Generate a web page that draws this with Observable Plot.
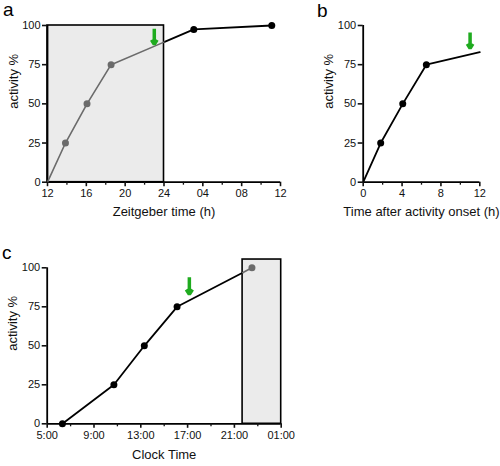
<!DOCTYPE html>
<html>
<head>
<meta charset="utf-8">
<script src="https://cdn.jsdelivr.net/npm/d3@7"></script>
<script src="https://cdn.jsdelivr.net/npm/@observablehq/plot@0.6"></script>
<style>
  body { margin: 0; background: #fff; font-family: 'Liberation Sans', Arial, sans-serif; }
  #root { position: relative; width: 500px; height: 466px; overflow: hidden; background: #fff; }
  .pan { position: absolute; }
  .letter { position: absolute; font-size: 19px; line-height: 1; color: #000; }
</style>
</head>
<body>
<div id="root"></div>
<script>
// ---------- data ----------
const yTicks = [0, 25, 50, 75, 100];
const yLabel = "activity %";

// panel a: Zeitgeber time
const aHours = [12, 13.85, 16.07, 18.55, 27.07, 35.1];
const aActivity = [0, 25, 50, 75, 97.5, 100];
const aMarked = [false, true, true, true, true, true];
const aShade = [12, 24];
const aShadeTop = 100;
const aArrow = [23, 98, 88];           // hour, from, to
const aTicks = [12, 16, 20, 24, 28, 32, 36];
const aTickLabels = ["12", "16", "20", "24", "04", "08", "12"];
const aMinor = [14, 18, 22, 26, 30, 34];
const aXLabel = "Zeitgeber time (h)";

// panel b: time after activity onset
const bHours = [0, 1.8, 4.07, 6.5, 12];
const bActivity = [0, 25, 50, 75, 83];
const bMarked = [false, true, true, true, false];
const bArrow = [11, 95.5, 85.5];
const bTicks = [0, 4, 8, 12];
const bTickLabels = ["0", "4", "8", "12"];
const bMinor = [2, 6, 10];
const bXLabel = "Time after activity onset (h)";

// panel c: clock time
const cHours = [6.3, 10.7, 13.3, 16.1, 22.5];
const cActivity = [0, 25, 50, 75, 100];
const cMarked = [true, true, true, true, true];
const cShade = [21.7, 25];
const cShadeTop = 105.3;
const cArrow = [17.15, 94, 83];
const cTicks = [5, 9, 13, 17, 21, 25];
const cTickLabels = ["5:00", "9:00", "13:00", "17:00", "21:00", "01:00"];
const cMinor = [7, 11, 15, 19, 23];
const cXLabel = "Clock Time";

// ---------- styles ----------
const BLACK = "#000";
const GRAY = "#6b6b6b";
const SHADE = "#ebebeb";
const GREEN = "#1fab1f";
const FONT = "'Liberation Sans', Arial, sans-serif";

function splitLine(pts, lo, hi) {
  const inside = x => x >= lo && x <= hi;
  const out = [];
  let cur = [pts[0]], curIn = inside(pts[0].x);
  for (let k = 1; k < pts.length; k++) {
    const p0 = pts[k - 1], p1 = pts[k];
    for (const b of [lo, hi]) {
      if ((p0.x - b) * (p1.x - b) < 0) {
        const t = (b - p0.x) / (p1.x - p0.x);
        const q = {x: b, y: p0.y + t * (p1.y - p0.y)};
        cur.push(q);
        out.push({pts: cur, inside: curIn});
        cur = [q];
        curIn = !curIn;
      }
    }
    cur.push(p1);
  }
  out.push({pts: cur, inside: curIn});
  return out;
}

function makePanel(cfg) {
  const pts = cfg.hours.map((x, i) => ({x, y: cfg.activity[i], marked: cfg.marked[i]}));
  const shade = cfg.shade || [Infinity, Infinity];
  const segs = splitLine(pts, shade[0], shade[1]);
  const rows = [];
  segs.forEach((s, si) => s.pts.forEach(p => rows.push({x: p.x, y: p.y, seg: si, inside: s.inside})));
  const isIn = x => x >= shade[0] && x <= shade[1];
  const dots = pts.filter(p => p.marked);
  const xMin = cfg.xDomain[0], xMax = cfg.xDomain[1];

  const marks = [];
  if (cfg.shade) {
    marks.push(Plot.rect([{x1: cfg.shade[0], x2: cfg.shade[1], y1: 0, y2: cfg.shadeTop}],
      {x1: "x1", x2: "x2", y1: "y1", y2: "y2", fill: SHADE, stroke: BLACK, strokeWidth: 1.6}));
  }
  marks.push(
    Plot.ruleY([0], {x1: xMin, x2: xMax, stroke: BLACK, strokeWidth: 1.8}),
    Plot.ruleX([xMin], {y1: 0, y2: 100, stroke: BLACK, strokeWidth: 1.8}),
    Plot.line(rows.filter(d => !d.inside), {x: "x", y: "y", z: "seg", stroke: BLACK, strokeWidth: 1.8}),
    Plot.line(rows.filter(d => d.inside), {x: "x", y: "y", z: "seg", stroke: GRAY, strokeWidth: 1.6}),
    Plot.dot(dots.filter(d => !isIn(d.x)), {x: "x", y: "y", r: 3.5, fill: BLACK, stroke: "none"}),
    Plot.dot(dots.filter(d => isIn(d.x)), {x: "x", y: "y", r: 3.5, fill: GRAY, stroke: "none"}),
    Plot.arrow([{x: cfg.arrow[0], y1: cfg.arrow[1], y2: cfg.arrow[2]}],
      {x1: "x", x2: "x", y1: "y1", y2: "y2", stroke: GREEN, strokeWidth: 3.5, headLength: 7, headAngle: 65,
       strokeLinejoin: "miter", strokeLinecap: "butt"}),
    Plot.axisY({ticks: yTicks, tickSize: 5, tickPadding: 2, strokeWidth: 1.6, fontSize: 11, label: null}),
    Plot.axisX({ticks: cfg.ticks, tickFormat: d => cfg.tickLabels[cfg.ticks.indexOf(d)],
      tickSize: 4.5, tickPadding: 2.5, strokeWidth: 1.6, fontSize: 11, label: null}),
    Plot.axisX({ticks: cfg.minor, tickFormat: () => "", tickSize: 3, strokeWidth: 1.3, label: null}),
    Plot.text([yLabel], {frameAnchor: "left", rotate: -90, dx: -34, dy: 5, fontSize: 13}),
    Plot.text([cfg.xLabel], {frameAnchor: "bottom", dy: cfg.xLabelDy, fontSize: 13})
  );

  return Plot.plot({
    width: cfg.w, height: cfg.h,
    marginLeft: cfg.ml, marginRight: cfg.mr, marginTop: cfg.mt, marginBottom: cfg.mb,
    x: {domain: cfg.xDomain, label: null},
    y: {domain: [0, 100], label: null},
    style: {fontFamily: FONT, fontSize: "11px", color: "#111", background: "transparent", overflow: "visible"},
    marks
  });
}

const root = document.getElementById("root");
function place(el, left, top) {
  const d = document.createElement("div");
  d.className = "pan";
  d.style.left = left + "px";
  d.style.top = top + "px";
  d.appendChild(el);
  root.appendChild(d);
}

place(makePanel({
  hours: aHours, activity: aActivity, marked: aMarked, shade: aShade, shadeTop: aShadeTop,
  arrow: aArrow, ticks: aTicks, tickLabels: aTickLabels, minor: aMinor, xLabel: aXLabel,
  xDomain: [12, 36], w: 290, h: 225, ml: 47, mr: 10, mt: 25, mb: 43.3, xLabelDy: 34
}), 0, 0);

place(makePanel({
  hours: bHours, activity: bActivity, marked: bMarked, shade: null,
  arrow: bArrow, ticks: bTicks, tickLabels: bTickLabels, minor: bMinor, xLabel: bXLabel,
  xDomain: [0, 12], w: 210, h: 225, ml: 72.7, mr: 20.7, mt: 25, mb: 43.3, xLabelDy: 34
}), 290, 0);

place(makePanel({
  hours: cHours, activity: cActivity, marked: cMarked, shade: cShade, shadeTop: cShadeTop,
  arrow: cArrow, ticks: cTicks, tickLabels: cTickLabels, minor: cMinor, xLabel: cXLabel,
  xDomain: [5, 25], w: 300, h: 236, ml: 46.7, mr: 19.3, mt: 37.3, mb: 42.7, xLabelDy: 35
}), 0, 230);

// panel letters
[["a", 3, 0], ["b", 317, 1], ["c", 2, 243]].forEach(([t, l, tp]) => {
  const d = document.createElement("div");
  d.className = "letter";
  d.textContent = t;
  d.style.left = l + "px";
  d.style.top = tp + "px";
  root.appendChild(d);
});
</script>
</body>
</html>
